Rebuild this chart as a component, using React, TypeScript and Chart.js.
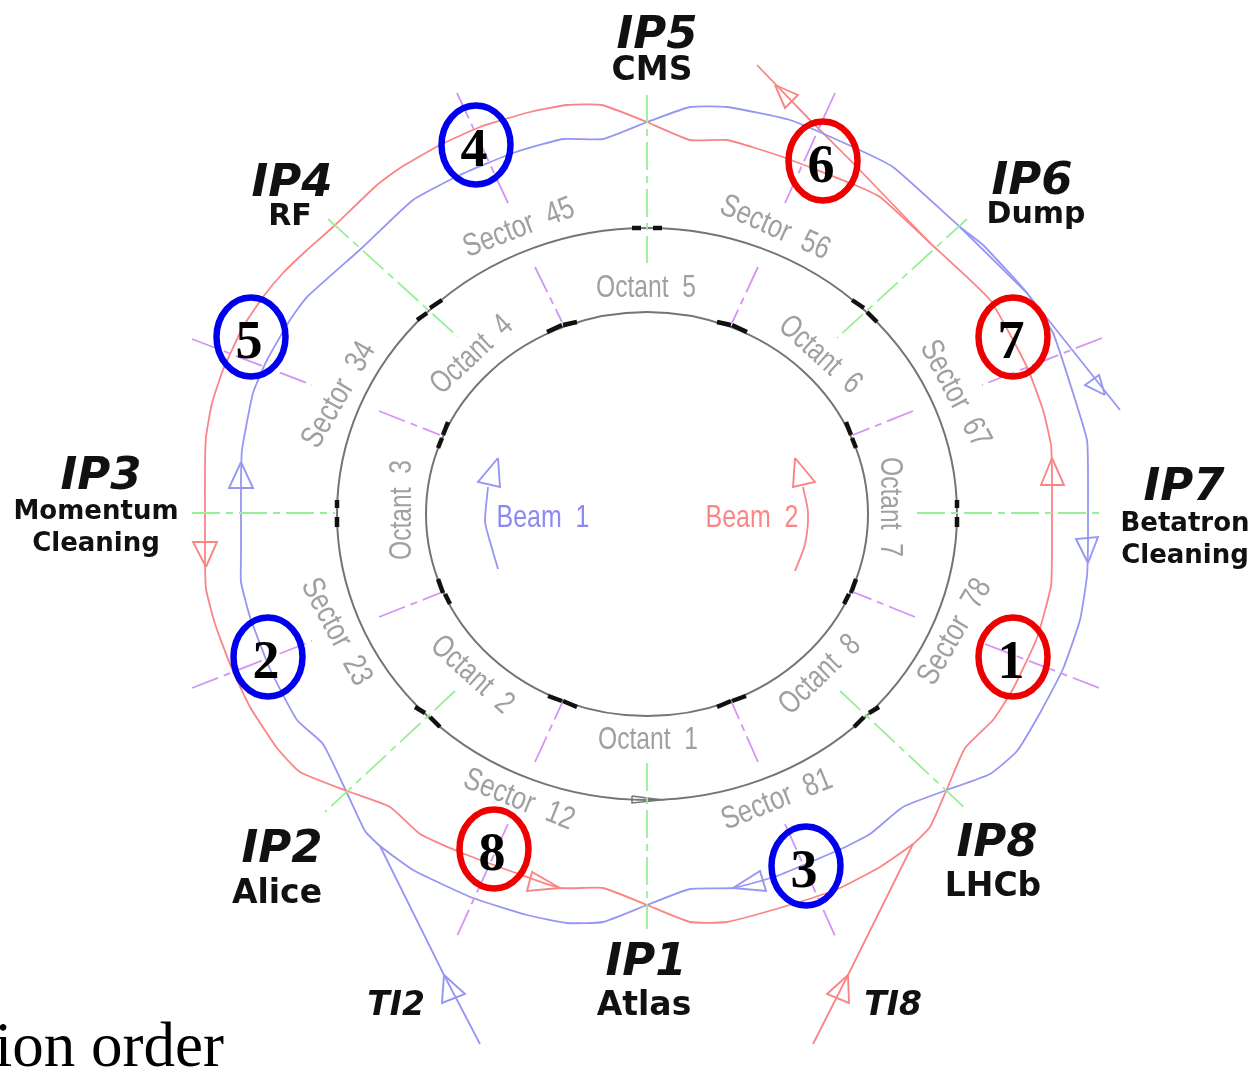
import React, { useEffect, useRef } from "react";
import { Chart, registerables } from "chart.js";

Chart.register(...registerables);

type P = [number, number];

const RED = "#fa8585";
const BLUE = "#9696f4";
const GREEN = "#96f096";
const PURPLE = "#d394f4";
const INK = "#747474";

// Beam orbits
const beam2Orbit: P[] = [
  [647,122],[602,105],[567,105],[530,112],[480,127],[440,145],[400,168],[377,185],[333,227],[307,250],[283,273],[263,297],[243,327],[223,370],[212,403],[206,437],[205,465],[205,520],
  [205,560],[206,589],[215,624],[232,669],[250,707],[277,748],[300,772],[347,791],[390,807],[420,834],[457,851],[513,872],[560,888],[603,888],[647,905],
  [690,922],[727,922],[803,901],[840,888],[880,867],[913,844],[930,827],[947,789],[965,748],[993,720],[1013,689],[1037,638],[1051,586],[1052,550],[1052,513],
  [1052,475],[1051,445],[1043,410],[1027,367],[990,300],[930,243],[880,197],[850,183],[783,157],[727,140],[690,140],[647,122],
];
const beam1Orbit: P[] = [
  [647,122],[603,139],[563,139],[513,153],[460,175],[413,200],[363,247],[307,297],[290,320],[267,360],[253,393],[242,450],[241,480],[241,520],
  [241,555],[241,582],[250,617],[270,669],[297,720],[323,744],[347,793],[365,831],[380,846],[413,870],[473,898],[527,915],[567,923],[603,922],[647,905],
  [690,889],[733,888],[777,876],[843,848],[870,834],[903,807],[947,790],[990,774],[1017,751],[1040,713],[1063,669],[1080,620],[1087,576],[1088,545],[1088,513],
  [1088,470],[1087,440],[1073,393],[1053,333],[1027,293],[983,245],[960,227],[893,167],[853,147],[790,120],[727,107],[690,107],[647,122],
];

// Injection and extraction lines
const ti2Line: P[] = [[380,846],[444,975],[480,1044]];
const ti8Line: P[] = [[913,844],[848,975],[813,1044]];
const dumpBeam2: P[] = [[930,243],[853,163],[807,117],[757,65]];
const dumpBeam1: P[] = [[960,227],[1027,293],[1120,410]];
const beam1Curve: P[] = [[488,487],[485,520],[487,531],[498,569]];
const beam2Curve: P[] = [[803,487],[808,513],[805,544],[795,571]];

// Open arrowheads
const redArrows: P[][] = [
  [[206,567],[193,542],[217,542],[206,567]],
  [[1052,458],[1041,485],[1064,485],[1052,458]],
  [[775,85],[798,95],[785,108],[775,85]],
  [[848,975],[827,994],[849,1003],[848,975]],
  [[560,888],[532,872],[527,891],[560,888]],
  [[795,458],[815,482],[793,487],[795,458]],
];
const blueArrows: P[][] = [
  [[241,462],[229,488],[253,488],[241,462]],
  [[1088,563],[1076,539],[1098,537],[1088,563]],
  [[1105,395],[1085,385],[1099,375],[1105,395]],
  [[444,975],[442,1003],[465,994],[444,975]],
  [[733,888],[760,871],[766,891],[733,888]],
  [[498,458],[478,482],[500,487],[498,458]],
];
const ringBottomArrow: P[] = [[632,796],[662,800],[632,803],[632,796]];

// Interaction point axes and octant boundaries
const ipAxes: P[][] = [
  [[647,95],[647,263]],[[647,763],[647,929]],[[192,513],[335,513]],[[917,513],[1100,513]],
  [[328,219],[458,337]],[[967,219],[837,338]],[[455,691],[325,812]],[[840,691],[967,810]],
];
const octantBoundaries: P[][] = [
  [[457,93],[508,203]],[[535,267],[562,322]],[[192,339],[312,385]],[[379,411],[440,435]],
  [[835,93],[785,203]],[[758,267],[732,323]],[[1102,338],[982,385]],[[913,411],[853,435]],
  [[192,688],[312,641]],[[379,617],[440,593]],[[508,824],[457,936]],[[535,762],[562,703]],
  [[785,824],[835,936]],[[758,762],[732,703]],[[985,644],[1102,689]],[[915,617],[853,592]],
];

// Thick marks on the rings
const ringMarks: P[][] = [
  [[632,228],[641,228]],[[653,228],[662,228]],[[417,320],[427,313]],[[430,308],[442,300]],[[877,322],[867,312]],[[864,308],[852,300]],
  [[337,500],[337,508]],[[337,517],[337,527]],[[957,500],[957,508]],[[957,517],[957,527]],
  [[415,707],[425,713]],[[430,717],[440,727]],[[879,707],[869,713]],[[864,717],[854,727]],
  [[547,332],[562,325]],[[563,325],[577,322]],[[747,332],[732,325]],[[731,325],[717,322]],
  [[448,422],[443,435]],[[442,438],[438,448]],[[846,422],[851,435]],[[852,438],[856,448]],
  [[438,579],[443,593]],[[445,594],[450,604]],[[856,579],[851,593]],[[849,594],[844,604]],
  [[548,696],[562,701]],[[563,701],[577,707]],[[746,696],[732,701]],[[731,701],[717,707]],
];
const ringCentre: P = [647, 514];
const ringRadii: P[] = [[310, 286], [221, 202]];

// Numbered markers
const markerNumbers = ["1","2","3","4","5","6","7","8"];
const markerPoints: P[] = [[1013,657],[268,657],[806,866],[476,145],[251,337],[823,161],[1013,337],[494,849]];
const markerColors = ["#ee0000","#0000ee","#0000ee","#0000ee","#0000ee","#ee0000","#ee0000","#ee0000"];

// Labels: text, x, y, angle
const sectorLabels: [string,number,number,number][] = [
  ["Sector  45",519,228,-21],["Sector  56",775,228,24],["Sector  67",955,394,62],["Sector  78",955,632,-60],
  ["Sector  81",777,800,-22],["Sector  12",519,800,22],["Sector  23",336,632,62],["Sector  34",339,395,-60],
];
const octantLabels: [string,number,number,number][] = [
  ["Octant  5",646,288,0],["Octant  6",820,355,42],["Octant  7",890,507,90],["Octant  8",820,675,-44],
  ["Octant  1",648,740,0],["Octant  2",472,675,42],["Octant  3",402,510,-90],["Octant  4",472,355,-43],
];
const ipLabels: [string,number,number][] = [
  ["IP5",657,36],["IP4",292,184],["IP6",1032,182],["IP3",101,477],["IP7",1184,488],["IP2",282,850],["IP8",997,844],["IP1",646,963],
];
const siteLabels: [string,number,number,number][] = [
  ["CMS",652,71,33],["RF",290,217,30],["Dump",1036,215,30],["Momentum",96,512,26],["Cleaning",96,544,26],
  ["Betatron",1185,524,26],["Cleaning",1185,556,26],["Alice",277,894,33],["LHCb",993,887,33],["Atlas",644,1006,33],
];
const tunnelLabels: [string,number,number][] = [["TI2",396,1006],["TI8",893,1006]];
const beamLabels: [string,number,number,string][] = [["Beam  1",543,518,"#8a8af0"],["Beam  2",752,518,"#fa8686"]];
const footerText = "ion order";

const toXY = (pts: P[]) => pts.map(([x, y]) => ({ x, y }));
const line = (pts: P[], color: string, width = 1.8, dash: number[] = [], tension = 0) => ({
  type: "line" as const,
  data: toXY(pts),
  borderColor: color,
  borderWidth: width,
  borderDash: dash,
  tension,
  pointRadius: 0,
  fill: false,
  spanGaps: true,
});

const diagramPlugin = {
  id: "diagram",
  beforeDatasetsDraw(chart: any) {
    const { ctx, scales } = chart;
    const X = scales.x, Y = scales.y;
    ctx.save();
    ctx.filter = "blur(0.6px)";
    ctx.strokeStyle = INK;
    ctx.lineWidth = 2;
    for (const [rx, ry] of ringRadii) {
      ctx.beginPath();
      ctx.ellipse(X.getPixelForValue(ringCentre[0]), Y.getPixelForValue(ringCentre[1]), rx, ry, 0, 0, Math.PI * 2);
      ctx.stroke();
    }
    const put = (t: string, x: number, y: number, a: number, font: string, color: string, hs = 1) => {
      ctx.save();
      ctx.translate(X.getPixelForValue(x), Y.getPixelForValue(y));
      ctx.rotate((a * Math.PI) / 180);
      ctx.scale(hs, 1);
      ctx.font = font;
      ctx.fillStyle = color;
      ctx.textAlign = "center";
      ctx.textBaseline = "middle";
      ctx.fillText(t, 0, 0);
      ctx.restore();
    };
    const cad = "32px 'Liberation Sans'";
    for (const [t, x, y, a] of sectorLabels) put(t, x, y, a, cad, "#a0a0a0", 0.8);
    for (const [t, x, y, a] of octantLabels) put(t, x, y, a, cad, "#a0a0a0", 0.77);
    for (const [t, x, y, c] of beamLabels) put(t, x, y, 0, cad, c, 0.78);
    const bi = "italic bold 45px 'DejaVu Sans'";
    for (const [t, x, y] of ipLabels) put(t, x, y, 0, bi, "#111");
    for (const [t, x, y, s] of siteLabels) put(t, x, y, 0, `bold ${s}px 'DejaVu Sans'`, "#111");
    for (const [t, x, y] of tunnelLabels) put(t, x, y, 0, "italic bold 33px 'DejaVu Sans'", "#111");
    ctx.restore();
    ctx.filter = "blur(0.6px)";
  },
  afterDatasetsDraw(chart: any) {
    const { ctx, scales } = chart;
    ctx.filter = "none";
    const meta = chart.getDatasetMeta(chart.data.datasets.length - 1);
    ctx.save();
    meta.data.forEach((el: any, i: number) => {
      ctx.strokeStyle = markerColors[i];
      ctx.lineWidth = 6.5;
      ctx.beginPath();
      ctx.ellipse(el.x, el.y, 34.5, 39.5, 0, 0, Math.PI * 2);
      ctx.stroke();
      ctx.fillStyle = "#000";
      ctx.font = "bold 54px 'Liberation Serif'";
      ctx.textAlign = "center";
      ctx.textBaseline = "middle";
      ctx.fillText(markerNumbers[i], el.x - 2, el.y + 7);
    });
    ctx.font = "63px 'Liberation Serif'";
    ctx.fillStyle = "#000";
    ctx.textAlign = "right";
    ctx.textBaseline = "alphabetic";
    ctx.fillText(footerText, scales.x.getPixelForValue(224), scales.y.getPixelForValue(1066));
    ctx.restore();
  },
};

export default function App() {
  const ref = useRef<HTMLCanvasElement>(null);
  useEffect(() => {
    document.body.style.margin = "0";
    document.body.style.background = "#fff";
    const datasets: any[] = [
      ...ipAxes.map((s) => line(s, GREEN, 1.8, [28, 6, 7, 6])),
      ...octantBoundaries.map((s) => line(s, PURPLE, 1.8, [28, 6, 7, 6])),
      ...ringMarks.map((s) => line(s, "#111", 4.5)),
      line(ringBottomArrow, INK, 1.5),
      line(beam2Orbit, RED, 1.8, [], 0.15),
      line(beam1Orbit, BLUE, 1.8, [], 0.15),
      line(ti2Line, BLUE),
      line(ti8Line, RED),
      line(dumpBeam2, RED),
      line(dumpBeam1, BLUE),
      line(beam1Curve, BLUE, 1.8, [], 0.3),
      line(beam2Curve, RED, 1.8, [], 0.3),
      ...redArrows.map((s) => line(s, RED, 1.9)),
      ...blueArrows.map((s) => line(s, BLUE, 1.9)),
      { type: "scatter", data: toXY(markerPoints), pointRadius: 0, showLine: false },
    ];
    const chart = new Chart(ref.current!, {
      type: "scatter",
      data: { datasets },
      options: {
        animation: false,
        responsive: false,
        devicePixelRatio: 1,
        layout: { padding: 0 },
        plugins: { legend: { display: false }, tooltip: { enabled: false }, title: { display: false } },
        scales: {
          x: { type: "linear", min: 0, max: 1255, display: false },
          y: { type: "linear", min: 0, max: 1081, reverse: true, display: false },
        },
      },
      plugins: [diagramPlugin],
    } as any);
    return () => chart.destroy();
  }, []);
  return <canvas ref={ref} width={1255} height={1081} style={{ display: "block" }} />;
}
